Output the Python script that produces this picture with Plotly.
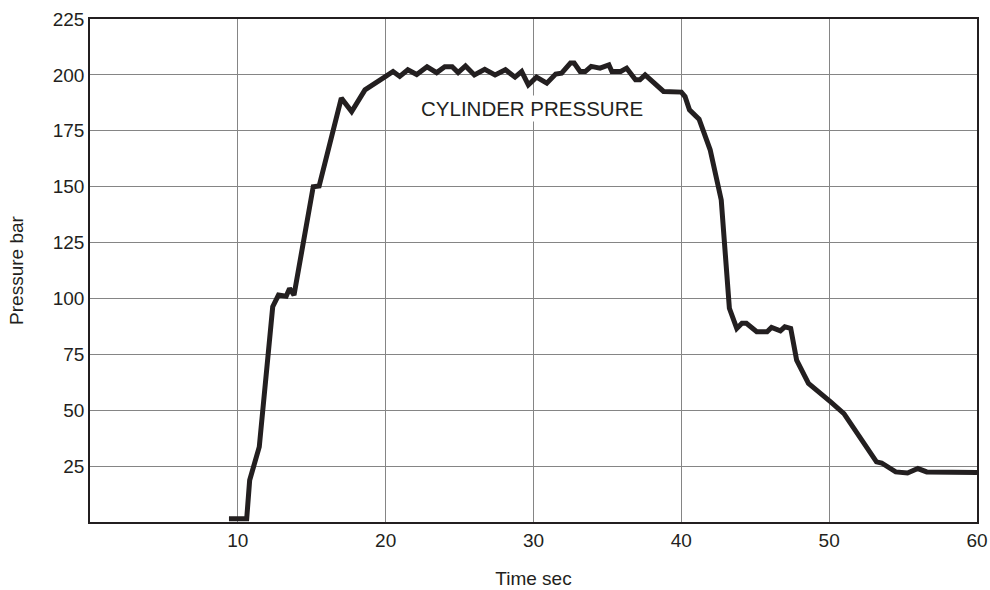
import plotly.graph_objects as go

time_sec = [9.4, 10.6, 10.8, 11.45, 12.36, 12.75, 13.27, 13.5, 13.8, 15.1, 15.5, 17.0, 17.7, 18.6,
            20.0, 20.5, 20.95, 21.5, 22.1, 22.8, 23.45, 24.0, 24.5, 24.9, 25.4, 26.0, 26.7, 27.4,
            28.1, 28.75, 29.2, 29.65, 30.2, 30.9, 31.5, 31.9, 32.5, 32.75, 33.15, 33.5, 33.9, 34.5,
            35.1, 35.3, 35.9, 36.3, 36.9, 37.2, 37.55, 38.8, 40.0, 40.25, 40.55, 41.2, 41.95, 42.7,
            43.25, 43.75, 44.1, 44.4, 45.1, 45.8, 46.1, 46.7, 47.0, 47.4, 47.8, 48.6, 50.1, 51.0,
            53.2, 53.55, 54.5, 55.3, 56.0, 56.6, 60.0]
pressure_bar = [1.5, 1.5, 18.7, 33.6, 96.3, 101.5, 101, 104.5, 101.5, 150, 150.3, 189.6, 183.6, 193.3,
                199.3, 201.5, 199.3, 202.3, 200.2, 203.6, 201, 203.6, 203.6, 201, 204, 200, 202.5, 200,
                202.3, 199, 201.5, 195.5, 199, 196.3, 200.4, 200.8, 205.3, 205.3, 201.5, 201.5, 203.8, 203,
                204.5, 201.5, 201.5, 203, 197.8, 197.8, 200, 192.6, 192.3, 190.3, 184.4, 180.2, 166.5, 144,
                95.6, 86.6, 88.9, 88.9, 85.1, 85.1, 87, 85.5, 87.3, 86.6, 72.4, 62, 53.7, 48.5,
                26.9, 26.4, 22.4, 21.9, 23.9, 22.4, 22.1]

x_ticks = [10, 20, 30, 40, 50, 60]
y_ticks = [25, 50, 75, 100, 125, 150, 175, 200, 225]

ink = "#231f20"
fnt = "Liberation Sans, Arial, sans-serif"

fig = go.Figure()
fig.add_trace(go.Scatter(x=time_sec, y=pressure_bar, mode="lines",
                         line=dict(color=ink, width=5), showlegend=False))

fig.add_annotation(x=29.9, y=185, text="CYLINDER PRESSURE", showarrow=False,
                   bgcolor="white", font=dict(size=20.5, color=ink, family=fnt))

fig.update_layout(
    width=990, height=590,
    margin=dict(l=90, r=13, t=19, b=68, autoexpand=False),
    paper_bgcolor="white", plot_bgcolor="white",
    font=dict(family=fnt, size=19, color=ink),
    xaxis=dict(range=[0, 60], tickvals=x_ticks, showgrid=True, gridcolor="#858585", gridwidth=1,
               showline=True, mirror=True, linecolor=ink, linewidth=1.5, ticks="", zeroline=False,
               automargin=False,
               title=dict(text="Time sec", font=dict(size=19), standoff=22)),
    yaxis=dict(range=[0, 225], tickvals=y_ticks, showgrid=True, gridcolor="#858585", gridwidth=1,
               showline=True, mirror=True, linecolor=ink, linewidth=1.5, ticks="", zeroline=False,
               automargin=False,
               title=dict(text="Pressure bar", font=dict(size=19), standoff=24)),
)

fig.write_html("out.html")
